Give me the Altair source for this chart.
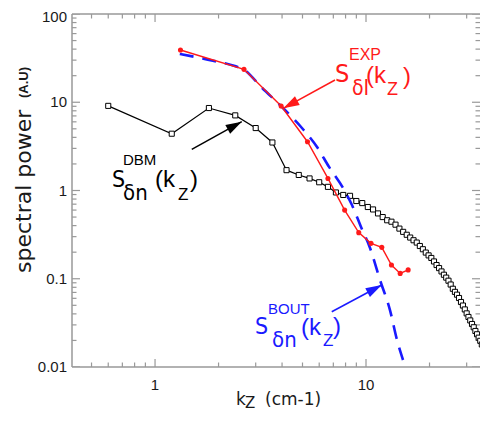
import math
import altair as alt
import pandas as pd

# ---------------- data ----------------
dbm_k = [0.6, 1.2, 1.8, 2.4, 3.0, 3.6, 4.2, 4.8, 5.4, 6.0, 6.6, 7.2, 7.8, 8.4, 9.0,
         9.6, 10.2, 10.8, 11.4, 12.0, 12.6, 13.2, 13.8, 14.4, 15.0, 15.6, 16.2, 16.8,
         17.4, 18.0, 18.6, 19.2, 19.8, 20.4, 21.0, 21.6, 22.2, 22.8, 23.4, 24.0, 24.6,
         25.2, 25.8, 26.4, 27.0, 27.6, 28.2, 28.8, 29.4, 30.0, 30.6, 31.2, 31.8, 32.4,
         33.0, 33.6, 34.2, 34.8, 35.4, 36.0, 36.6, 37.2, 37.8]
dbm_s = [9.1, 4.4, 8.6, 7.1, 5.1, 3.5, 1.7, 1.5, 1.37, 1.24, 1.10, 0.95, 0.89, 0.87,
         0.76, 0.72, 0.65, 0.61, 0.55, 0.50, 0.46, 0.443, 0.41, 0.37, 0.34, 0.315,
         0.293, 0.273, 0.257, 0.235, 0.216, 0.198, 0.184, 0.172, 0.157, 0.143, 0.132,
         0.121, 0.111, 0.103, 0.095, 0.086, 0.077, 0.071, 0.066, 0.0605, 0.0545,
         0.0497, 0.0449, 0.0405, 0.0369, 0.0337, 0.0307, 0.0282, 0.0256, 0.0235,
         0.0215, 0.0198, 0.018, 0.0162, 0.0148, 0.0135, 0.0124]

exp_k = [1.32, 2.64, 3.96, 5.28, 6.6, 7.92, 9.24, 10.56, 11.88, 13.2, 14.52, 15.84]
exp_s = [39.1, 23.6, 9.07, 3.57, 1.37, 0.60, 0.333, 0.252, 0.227, 0.143, 0.115, 0.126]

bout_k = [1.31, 1.88, 2.39, 2.61, 3.22, 4.13, 4.97, 5.86, 6.68, 7.78, 8.58, 9.47,
          10.45, 11.65, 12.99, 14.03, 14.98]
bout_s = [35.2, 29.6, 25.7, 23.8, 14.5, 8.17, 5.11, 3.11, 1.85, 1.07, 0.685, 0.386,
          0.223, 0.0968, 0.0442, 0.0202, 0.0120]

x_major = [1, 10]
x_major_labels = ["1", "10"]
x_minor = [0.5, 0.6, 0.7, 0.8, 0.9, 2, 3, 4, 5, 6, 7, 8, 9, 20, 30]
y_major = [0.01, 0.1, 1, 10, 100]
y_major_labels = ["0.01", "0.1", "1", "10", "100"]
y_minor = [0.02, 0.03, 0.04, 0.05, 0.06, 0.07, 0.08, 0.09,
           0.2, 0.3, 0.4, 0.5, 0.6, 0.7, 0.8, 0.9,
           2, 3, 4, 5, 6, 7, 8, 9,
           20, 30, 40, 50, 60, 70, 80, 90]

X_DOMAIN = [0.404, 34.7]
Y_DOMAIN = [0.01, 100]

# ---------------- layout / style ----------------
W, H = 408, 353
FRAME = "#999999"
TXT = "#1a1a1a"
RED = "#ff1a1a"
BLUE = "#1a1aff"
NARROW = "Liberation Sans Narrow, Arial Narrow, DejaVu Sans Condensed, Liberation Sans, sans-serif"
REG = "Liberation Sans, Arial, sans-serif"
WIDE = "DejaVu Sans, sans-serif"

xs = alt.Scale(type="log", domain=X_DOMAIN, nice=False)
ys = alt.Scale(type="log", domain=Y_DOMAIN, nice=False)

def X(f):
    return alt.X(f, scale=xs, axis=None)

def Y(f):
    return alt.Y(f, scale=ys, axis=None)

def XD(v):
    return alt.XDatum(v, scale=xs, axis=None)

def YD(v):
    return alt.YDatum(v, scale=ys, axis=None)

one = pd.DataFrame({"_": [0]})
layers = []

# frame: left, top, bottom (the right edge lies outside the reference picture)
layers.append(alt.Chart(one).mark_rule(color=FRAME, strokeWidth=1.5).encode(
    x=XD(X_DOMAIN[0]), y=YD(Y_DOMAIN[0]), y2=alt.Y2Datum(Y_DOMAIN[1])))
for edge in Y_DOMAIN:
    layers.append(alt.Chart(one).mark_rule(color=FRAME, strokeWidth=1.5).encode(
        y=YD(edge), x=XD(X_DOMAIN[0]), x2=alt.X2Datum(X_DOMAIN[1])))

# inward tick marks
def ticks_x(values, edge, size):
    return alt.Chart(pd.DataFrame({"v": values})).mark_tick(
        orient="vertical", size=size, thickness=1.2, color=FRAME, clip=True, opacity=1
    ).encode(x=X("v:Q"), y=YD(edge))

def ticks_y(values, edge, size):
    return alt.Chart(pd.DataFrame({"v": values})).mark_tick(
        orient="horizontal", size=size, thickness=1.2, color=FRAME, clip=True, opacity=1
    ).encode(y=Y("v:Q"), x=XD(edge))

for edge in Y_DOMAIN:
    layers.append(ticks_x(x_major, edge, 16))
    layers.append(ticks_x(x_minor, edge, 9))
for edge in X_DOMAIN:
    layers.append(ticks_y(y_major, edge, 16))
    layers.append(ticks_y(y_minor, edge, 9))

# tick labels
layers.append(alt.Chart(pd.DataFrame({"v": x_major, "t": x_major_labels})).mark_text(
    font=REG, fontSize=15, color=TXT, align="center", baseline="top", dy=11
).encode(x=X("v:Q"), y=YD(Y_DOMAIN[0]), text="t:N"))
ylab = pd.DataFrame({"v": y_major, "t": y_major_labels})
layers.append(alt.Chart(ylab.iloc[:-1]).mark_text(
    font=REG, fontSize=15, color=TXT, align="right", baseline="middle", dx=-5
).encode(y=Y("v:Q"), x=XD(X_DOMAIN[0]), text="t:N"))
layers.append(alt.Chart(ylab.iloc[-1:]).mark_text(
    font=REG, fontSize=15, color=TXT, align="right", baseline="middle", dx=-5, dy=3
).encode(y=Y("v:Q"), x=XD(X_DOMAIN[0]), text="t:N"))

# black series
dbm = pd.DataFrame({"k": dbm_k, "s": dbm_s})
base_dbm = alt.Chart(dbm).encode(x=X("k:Q"), y=Y("s:Q"))
layers.append(base_dbm.mark_line(color="black", strokeWidth=1.2, clip=True))
layers.append(base_dbm.mark_point(shape="square", size=26, filled=True, fill="white",
                                  stroke="black", strokeWidth=1, opacity=1, clip=True))

# blue dashed series
bout = pd.DataFrame({"k": bout_k, "s": bout_s})
layers.append(alt.Chart(bout).mark_line(color=BLUE, strokeWidth=2.6, strokeDash=[14, 9],
                                         interpolate="monotone", clip=True).encode(
    x=X("k:Q"), y=Y("s:Q")))

# red series
exp = pd.DataFrame({"k": exp_k, "s": exp_s})
base_exp = alt.Chart(exp).encode(x=X("k:Q"), y=Y("s:Q"))
layers.append(base_exp.mark_line(color=RED, strokeWidth=1.4))
layers.append(base_exp.mark_point(shape="circle", size=26, filled=True, color=RED, opacity=1))

# annotations: anchor in data space, pieces offset in pixels
ANNOTATIONS = [
    (RED, 7.13, 16.96, [("S", 25, 0, 0, NARROW), ("EXP", 16, 14, -22, REG),
                        ("δI", 21, 17, 13, NARROW), ("(k", 24, 31, 1, REG),
                        ("Z", 18, 52, 13, REG), (")", 24, 68, 2, REG)]),
    ("black", 0.6254, 1.096, [("S", 23, 0, 0, NARROW), ("DBM", 15, 11, -22, REG),
                              ("δn", 22, 11, 13, NARROW), ("(k", 24, 43, 0, REG),
                              ("Z", 17, 66, 13, REG), (")", 24, 78, 0, REG)]),
    (BLUE, 2.978, 0.02366, [("S", 23, 0, 0, NARROW), ("BOUT", 15, 13, -20, REG),
                            ("δn", 22, 17, 13, NARROW), ("(k", 24, 46, 1, REG),
                            ("Z", 17, 68, 12, REG), (")", 24, 78, 0, REG)]),
]
for color, ak, as_, pieces in ANNOTATIONS:
    for text, fs, dx, dy, font in pieces:
        layers.append(alt.Chart(one).mark_text(
            text=text, fontSize=fs, dx=dx, dy=dy, font=font, color=color,
            align="left", baseline="alphabetic"
        ).encode(x=XD(ak), y=YD(as_)))

# arrows (tail -> tip, data space)
ARROWS = [
    (RED, 7.13, 17.87, 4.055, 8.54),
    ("black", 1.493, 2.93, 2.576, 6.02),
    (BLUE, 6.88, 0.0423, 11.87, 0.0849),
]
PX_X = W / math.log10(X_DOMAIN[1] / X_DOMAIN[0])
PX_Y = H / math.log10(Y_DOMAIN[1] / Y_DOMAIN[0])
HEAD = "M0,0L-0.62,2L0.62,2Z"
for color, k0, s0, k1, s1 in ARROWS:
    dxp = math.log10(k1 / k0) * PX_X
    dyp = -math.log10(s1 / s0) * PX_Y
    ang = math.degrees(math.atan2(dxp, -dyp)) % 360
    layers.append(alt.Chart(one).mark_rule(color=color, strokeWidth=1.5).encode(
        x=XD(k0), y=YD(s0), x2=alt.X2Datum(k1), y2=alt.Y2Datum(s1)))
    layers.append(alt.Chart(one).mark_point(
        shape=HEAD, size=256, angle=ang, filled=True, color=color, opacity=1, strokeWidth=0
    ).encode(x=XD(k1), y=YD(s1)))

# axis titles
layers.append(alt.Chart(one).mark_text(
    text="spectral power", angle=270, align="left", baseline="middle", font=WIDE,
    fontSize=22, color=TXT).encode(x=alt.value(-48), y=alt.value(259)))
layers.append(alt.Chart(one).mark_text(
    text="(A.U)", angle=270, align="left", baseline="middle", font=REG,
    fontWeight="bold", fontSize=13, color=TXT).encode(x=alt.value(-48), y=alt.value(84)))
for text, fs, px, py in [("k", 17, 164, 391), ("Z", 15, 173, 394), ("(cm-1)", 17, 193, 391)]:
    layers.append(alt.Chart(one).mark_text(
        text=text, fontSize=fs, font=WIDE, color=TXT, align="left", baseline="alphabetic"
    ).encode(x=alt.value(px), y=alt.value(py)))

chart = alt.layer(*layers).properties(
    width=W, height=H,
    autosize=alt.AutoSizeParams(type="none"),
    padding={"left": 64, "top": 6, "right": 0, "bottom": 46},
).configure_view(strokeWidth=0)

chart.save("out.html", embed_options={"renderer": "svg", "actions": False})
